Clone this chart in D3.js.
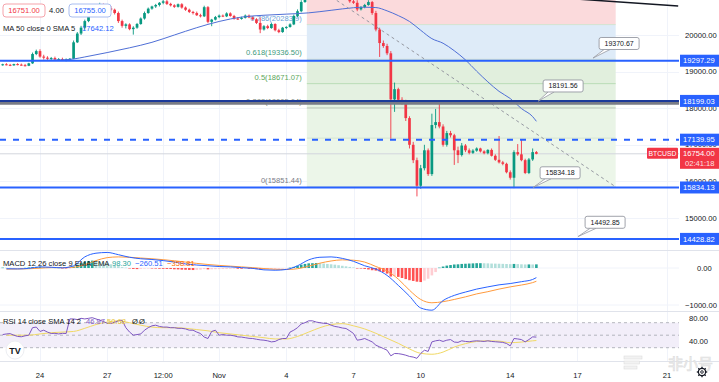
<!DOCTYPE html>
<html><head><meta charset="utf-8">
<script src="https://cdn.jsdelivr.net/npm/d3@7"></script>
<style>body{margin:0;background:#fff;}svg{display:block;font-family:"Liberation Sans",Arial,sans-serif;}</style>
</head><body><svg id="c" width="719" height="382"></svg>
<script>
// ---------------- DATA ----------------
const firstBar = "2022-10-22T08:00";   // 4H bars
const barHours = 4;
// [open, high, low, close]
const candles = [
[19180,19215,19160,19200],[19200,19230,19170,19185],[19185,19210,19150,19170],[19170,19215,19160,19205],
[19205,19230,19170,19190],[19190,19220,19160,19175],[19175,19210,19140,19160],[19160,19240,19150,19225],[19225,19520,19210,19480],[19480,19600,19450,19560],
[19560,19610,19380,19410],[19410,19460,19330,19380],[19380,19420,19320,19350],[19350,19400,19300,19370],[19370,19410,19310,19330],[19330,19370,19290,19340],
[19340,19380,19300,19320],[19320,19360,19280,19330],[19330,19370,19300,19350],[19350,19850,19340,19800],[19800,20080,19780,20040],[20040,20250,20000,20200],
[20200,20420,20150,20380],[20380,20600,20350,20560],[20560,20750,20520,20700],[20700,20800,20640,20760],[20760,20880,20700,20820],[20820,20860,20750,20790],
[20790,20840,20690,20730],[20730,20790,20650,20690],[20690,20720,20560,20600],[20600,20640,20330,20380],[20380,20420,20200,20250],[20250,20320,20180,20290],
[20290,20320,20130,20160],[20160,20240,20010,20200],[20200,20330,20170,20300],[20300,20480,20280,20450],[20450,20640,20420,20600],[20600,20750,20580,20720],
[20720,20800,20690,20780],[20780,20850,20740,20820],[20820,20900,20780,20880],[20880,20990,20840,20920],[20920,20960,20820,20850],[20850,20880,20780,20810],
[20810,20840,20740,20770],[20770,20860,20750,20840],[20840,20870,20720,20750],[20750,20780,20660,20690],[20690,20720,20600,20630],[20630,20660,20560,20600],
[20600,20640,20520,20540],[20540,20580,20480,20510],[20510,20800,20490,20760],[20760,20790,20320,20360],[20360,20440,20240,20420],[20420,20520,20400,20490],
[20490,20560,20460,20530],[20530,20560,20490,20510],[20510,20620,20490,20590],[20590,20620,20500,20520],[20520,20550,20420,20450],[20450,20490,20410,20440],
[20440,20500,20420,20470],[20470,20560,20450,20530],[20530,20560,20460,20480],[20480,20510,20400,20430],[20430,20460,20300,20330],[20330,20480,20050,20150],
[20150,20270,20120,20240],[20240,20280,20160,20190],[20190,20330,20170,20300],[20300,20320,20100,20130],[20130,20170,20050,20080],[20080,20220,20060,20200],
[20200,20240,20160,20220],[20220,20320,20200,20290],[20290,20560,20270,20520],[20520,20700,20480,20650],[20650,20950,20620,20900],[20900,21250,20880,21150],
[21150,21300,21100,21250],[21250,21470,21200,21380],[21380,21420,21280,21320],[21320,21380,21240,21290],[21290,21340,21200,21260],[21260,21320,21180,21300],
[21300,21370,21250,21290],[21290,21340,21220,21250],[21250,21300,21180,21210],[21210,21260,21120,21150],[21150,21200,21000,21050],[21050,21100,20880,20920],
[20920,20990,20850,20880],[20880,20950,20650,20700],[20700,20790,20670,20760],[20760,20850,20730,20820],[20820,20950,20800,20900],[20900,20930,20550,20600],
[20600,20660,20100,20150],[20150,20200,19400,19780],[19780,19850,19650,19700],[19700,19760,19450,19500],[19500,19560,17166,18240],[18240,18700,17900,18520],
[18520,18560,18150,18230],[18230,18300,18100,18160],[18160,18230,17650,17730],[17730,17780,16900,17000],[17000,17080,16500,16580],[16580,16650,15590,15880],
[15880,16450,15800,16360],[16360,17000,16300,16850],[16850,16900,16150,16200],[16200,17850,16150,17540],[17540,17980,17450,17620],[17620,18150,17450,17500],
[17500,17560,16950,17000],[17000,17380,16950,17320],[17320,17380,17200,17260],[17260,17300,16450,16850],[16850,16950,16500,16720],[16720,17050,16680,16980],
[16980,17020,16800,16850],[16850,16900,16740,16780],[16780,16880,16750,16840],[16840,16930,16810,16900],[16900,16920,16790,16820],[16820,16850,16740,16770],
[16770,16880,16740,16860],[16860,16900,16680,16700],[16700,16740,16560,16590],[16590,17240,16490,16520],[16520,16560,16440,16480],[16480,16510,16220,16250],
[16250,16300,16050,16100],[16100,16850,15815,16800],[16800,17020,16700,16740],[16740,17150,16550,16580],[16580,16620,16200,16230],[16230,16640,16200,16600],
[16600,16900,16560,16800],[16800,16830,16740,16754]
];
// MA 50
const ma50 = [
["2022-10-22T08:00",19300],["2022-10-23T00:00",19300],["2022-10-24T00:00",19305],["2022-10-25T00:00",19320],["2022-10-25T12:00",19345],
["2022-10-26T00:00",19400],["2022-10-27T00:00",19520],["2022-10-28T00:00",19650],["2022-10-29T00:00",19800],["2022-10-30T00:00",20000],
["2022-10-31T00:00",20200],["2022-11-01T00:00",20370],["2022-11-02T00:00",20490],["2022-11-03T00:00",20540],["2022-11-04T00:00",20570],
["2022-11-05T00:00",20605],["2022-11-06T00:00",20675],["2022-11-07T00:00",20745],["2022-11-07T12:00",20760],["2022-11-08T00:00",20750],
["2022-11-08T12:00",20660],["2022-11-09T00:00",20530],["2022-11-09T12:00",20370],["2022-11-10T00:00",20130],["2022-11-10T12:00",19900],
["2022-11-11T00:00",19775],["2022-11-11T12:00",19570],["2022-11-12T00:00",19320],["2022-11-12T12:00",19010],["2022-11-13T00:00",18720],
["2022-11-13T12:00",18460],["2022-11-14T00:00",18265],["2022-11-14T12:00",17990],["2022-11-15T00:00",17770],["2022-11-15T04:00",17642.12]
];
// MACD & signal, sampled every 12h from this time, plus the live bar value
const halfDayStart = "2022-10-22T12:00";
const macdLine = [-20,-25,-10,30,20,5,60,300,400,420,360,290,250,230,200,160,110,80,60,40,30,10,-10,-50,-60,-40,60,220,290,300,260,180,60,-30,-200,-470,-760,-1080,-1140,-880,-740,-650,-570,-510,-455,-420,-370,-310,-260.51];
const signalLine = [-30,-25,-20,-5,10,10,20,90,200,280,300,290,270,250,225,195,160,125,95,70,50,30,10,-15,-35,-40,-20,50,130,190,220,210,160,40,-80,-300,-600,-850,-940,-910,-850,-780,-700,-640,-570,-510,-460,-395,-358.81];
// MACD histogram, one per bar
const macdHist = [10,8,5,2,
0,-3,5,15,25,30, 35,25,15,10,5,0, -5,-8,-5,40,90,130, 170,190,200,190,170,150, 130,100,75,50,25,10,
-5,-25,-30,-25,-15,-5, -10,-15,-20,-22,-25,-28, -35,-38,-45,-48,-52,-55, -50,-45,-30,-38,-35,-32,
-30,-28,-25,-22,-20,-20, -20,-18,-20,-24,-30,-42, -38,-32,-28,-26,-20,-10, -5,10,30,60,90,110,
125,130,135,130,120,110, 100,90,75,60,45,30, 15,-5,-15,-25,-40,-60, -70,-90,-110,-150,-230,-220,
-240,-270,-300,-330,-350,-370, -380,-340,-290,-200,-110,10, 40,65,80,95,100,110, 115,120,125,130,130,128,
125,120,118,115,112,108, 104,110,106,100,96,97, 96,98.3];
// RSI 14, one per bar
const rsi = [51,52,52.5,50,
48,47.5,49,50,62,63, 56,58,55,52.7,53,52, 53,52.7,76,76,75,77, 76,77,78,76,74,72, 69,68.7,71,73,74,62,
55,50,51,52,58,62, 65,66,64,63,63,62, 62,61,61,60,58,58, 55,52.7,47,44.7,56,58,
50,51,50,50,49,47.3, 47,46,45,44.7,43.5,42.5, 42,41,39.3,40,43,44.7, 44.7,55,58,62,68,70,
73,73,71,70,69,68.7, 66,64,63,61.5,60.7,57, 52.7,42,43,44.7,42,39.3, 34,31.3,28.7,26,17,20.7,
20.5,19.5,18,16,15,13, 20.7,26,24,39.3,41,42, 40,42,43,39,38.5,41, 40,39.5,40.5,41,40.5,40,
41,40,39.5,39,38.5,36.7, 33,44.7,44,43,39.3,43, 47.3,46.97];
// RSI-based MA, every 12h + live value
const rsiMa = [50,50,50,52,54,55,56,61,67,71,73,70,66,63,62,62,61,59,57,54,52,50,48,46,44,44,48,55,62,67,68.5,65,60,53,45,37,28,21,19.5,23,31,36.5,40,41,40.5,38,39,41,41.5];

// Price scale ticks, time ticks
const priceTicks = [20000,19000,18000,17000,16000,15000];
const timeTicks = [["2022-10-24T00:00","24"],["2022-10-27T00:00","27"],["2022-10-29T12:00","12:00"],["2022-11-01T00:00","Nov"],
["2022-11-04T00:00","4"],["2022-11-07T00:00","7"],["2022-11-10T00:00","10"],["2022-11-14T00:00","14"],["2022-11-17T00:00","17"],["2022-11-21T00:00","21"]];
// Drawings
const hLines = [
  {price:19297.29, color:"#2962ff"},
  {price:18199.03, color:"#1b3a9a"},
  {price:17139.95, color:"#2962ff", dash:"6,7"},
  {price:15834.13, color:"#2962ff"},
  {price:14428.82, color:"#2962ff"}];
const grayBandPrice = 18140;
const lastPrice = 16754.00;
const fibLow = 15851.44, fibHigh = 21490.70;
const fibStart = "2022-11-04T22:00", fibEnd = "2022-11-18T17:00";
const fibLevels = [1, 0.786, 0.618, 0.5, 0.382, 0.236, 0];
const fibZoneColors = ["#fbdadc","#deebf8","#e1efdd","#e4f1e1","#e9f4e6","#ecf6e9"];
const fibLabelColors = {"0.786":"#6aa3d8","0.618":"#3d9a7c","0.5":"#5aa65a","0.382":"#7d8a7d","0":"#787b86"};
const callouts = [
  {text:"19370.67", at:["2022-11-17T16:45",19370.67], box:["2022-11-18T20:40",19768]},
  {text:"18191.56", at:["2022-11-15T05:50",18191.56], box:["2022-11-16T08:40",18607]},
  {text:"15834.18", at:["2022-11-15T00:30",15834.18], box:["2022-11-16T05:25",16235]},
  {text:"14492.85", at:["2022-11-17T00:40",14492.85], box:["2022-11-18T05:40",14883]}];
const trendLine = [["2022-11-10T00:00",21280],["2022-11-21T12:00",20790]];

// ---------------- SCALES ----------------
const T = s => new Date(s + ":00Z");
const svg = d3.select("#c");
const PR = 679; // plot right edge
const x = d3.scaleUtc().domain([T("2022-10-24T00:00"), T("2022-11-21T00:00")]).range([40, 667]);
const y = d3.scaleLinear().domain([15000, 20000]).range([218, 35]);
const yM = d3.scaleLinear().domain([-1000, 0]).range([305, 268]);
const yR = d3.scaleLinear().domain([30, 70]).range([347.7, 322.7]);
const barTime = i => new Date(T(firstBar).getTime() + i * barHours * 3600e3);
const halfTime = (k, n) => k === n - 1 ? barTime(candles.length - 1) : new Date(T(halfDayStart).getTime() + k * 12 * 3600e3);

svg.append("rect").attr("width",719).attr("height",382).attr("fill","#fff");
const defs = svg.append("defs");
function clip(id, y0, h){ defs.append("clipPath").attr("id",id).append("rect").attr("x",0).attr("y",y0).attr("width",PR).attr("height",h); }
clip("cMain",0,249); clip("cMacd",251,60); clip("cRsi",312,49);

// grid
const grid = svg.append("g").attr("stroke","#f0f3fa").attr("stroke-width",1);
timeTicks.forEach(([d]) => grid.append("line").attr("x1",Math.round(x(T(d)))+0.5).attr("x2",Math.round(x(T(d)))+0.5).attr("y1",0).attr("y2",361));
priceTicks.forEach(p => grid.append("line").attr("x1",0).attr("x2",PR).attr("y1",Math.round(y(p))+0.5).attr("y2",Math.round(y(p))+0.5));
[0,-1000].forEach(v => grid.append("line").attr("x1",0).attr("x2",PR).attr("y1",yM(v)).attr("y2",yM(v)));

// ---------------- MAIN PANE ----------------
const main = svg.append("g").attr("clip-path","url(#cMain)");
const fibP = l => fibLow + l * (fibHigh - fibLow);
const fx0 = x(T(fibStart)), fx1 = x(T(fibEnd));
for (let k = 0; k < fibLevels.length - 1; k++) {
  const a = y(fibP(fibLevels[k])), b = y(fibP(fibLevels[k+1]));
  main.append("rect").attr("x",fx0).attr("width",fx1-fx0).attr("y",a).attr("height",b-a).attr("fill",fibZoneColors[k]);
}
fibLevels.forEach(l => {
  const yy = y(fibP(l));
  main.append("line").attr("x1",fx0).attr("x2",fx1).attr("y1",yy).attr("y2",yy)
    .attr("stroke", l===0.5 ? "#b9dcb6" : (l===0.382 ? "#b5c2b5" : "#d3e3d0")).attr("stroke-width",1);
  const key = String(l);
  if (fibLabelColors[key]) {
    const v = fibP(l);
    main.append("text").attr("x",fx0-5).attr("y",yy-4).attr("text-anchor","end").attr("font-size",7.6)
      .attr("fill",fibLabelColors[key]).text(key + "(" + (l===0.786 ? v.toFixed(1) : v.toFixed(2)) + ")");
  }
});
// last price line
main.append("line").attr("x1",0).attr("x2",PR).attr("y1",y(lastPrice)).attr("y2",y(lastPrice)).attr("stroke","#d3d6dd").attr("stroke-width",1);

// candles
const up = "#089981", dn = "#f23645";
const cg = main.append("g");
candles.forEach((c, i) => {
  const [o,h,l,cl] = c, xc = x(barTime(i)), col = cl >= o ? up : dn;
  cg.append("line").attr("x1",xc).attr("x2",xc).attr("y1",y(h)).attr("y2",y(l)).attr("stroke",col).attr("stroke-width",0.9);
  const t = y(Math.max(o,cl)), b = y(Math.min(o,cl));
  cg.append("rect").attr("x",xc-1.35).attr("width",2.7).attr("y",t).attr("height",Math.max(1,b-t)).attr("fill",col);
});
// MA 50
main.append("path").datum(ma50).attr("fill","none").attr("stroke","#4f6fd6").attr("stroke-width",1)
  .attr("d", d3.line().x(d=>x(T(d[0]))).y(d=>y(d[1])).curve(d3.curveMonotoneX));
// fib diagonal
main.append("line").attr("x1",fx0).attr("y1",y(fibHigh)).attr("x2",fx1).attr("y2",y(fibLow))
  .attr("stroke","#9598a1").attr("stroke-width",1).attr("stroke-dasharray","3,3");
// horizontal lines
main.append("line").attr("x1",0).attr("x2",PR).attr("y1",y(grayBandPrice)).attr("y2",y(grayBandPrice)).attr("stroke","#787b86").attr("stroke-width",3.5);
hLines.forEach(h => {
  main.append("line").attr("x1",0).attr("x2",PR).attr("y1",y(h.price)).attr("y2",y(h.price))
    .attr("stroke",h.color).attr("stroke-width",2).attr("stroke-dasharray",h.dash||null);
});
// trend line
main.append("line").attr("x1",x(T(trendLine[0][0]))).attr("y1",y(trendLine[0][1])).attr("x2",x(T(trendLine[1][0]))).attr("y2",y(trendLine[1][1]))
  .attr("stroke","#131722").attr("stroke-width",1.5);
// callouts
callouts.forEach(c => {
  const ax = x(T(c.at[0])), ay = y(c.at[1]);
  const bw = 40, bh = 12, bx = x(T(c.box[0])) - bw/2, by = y(c.box[1]) - bh/2;
  main.append("path").attr("d",`M${bx+5},${by+bh}L${ax},${ay}L${bx+11},${by+bh}`).attr("fill","#fff").attr("stroke","#9598a1").attr("stroke-width",0.8);
  main.append("rect").attr("x",bx).attr("y",by).attr("width",bw).attr("height",bh).attr("rx",2)
    .attr("fill","#fff").attr("stroke","#9598a1").attr("stroke-width",0.9);
  main.append("text").attr("x",bx+bw/2).attr("y",by+bh/2).attr("dy","0.35em").attr("text-anchor","middle")
    .attr("font-size",7).attr("fill","#131722").text(c.text);
});

// ---------------- MACD PANE ----------------
const mp = svg.append("g").attr("clip-path","url(#cMacd)");
macdHist.forEach((v, i) => {
  const prev = i > 0 ? macdHist[i-1] : v;
  const col = v >= 0 ? (v >= prev ? "#26a69a" : "#b2dfdb") : (v <= prev ? "#ff5252" : "#ffcdd2");
  const xc = x(barTime(i)), a = yM(Math.max(v,0)), b = yM(Math.min(v,0));
  mp.append("rect").attr("x",xc-1.3).attr("width",2.6).attr("y",a).attr("height",Math.max(0.5,b-a)).attr("fill",col);
});
const lineHalf = arr => d3.line().x((d,k)=>x(halfTime(k,arr.length))).curve(d3.curveMonotoneX);
mp.append("path").datum(signalLine).attr("fill","none").attr("stroke","#ff9a3c").attr("stroke-width",1)
  .attr("d", lineHalf(signalLine).y(d=>yM(d)));
mp.append("path").datum(macdLine).attr("fill","none").attr("stroke","#2962ff").attr("stroke-width",1)
  .attr("d", lineHalf(macdLine).y(d=>yM(d)));

// ---------------- RSI PANE ----------------
const rp = svg.append("g").attr("clip-path","url(#cRsi)");
rp.append("rect").attr("x",0).attr("width",PR).attr("y",yR(70)).attr("height",yR(30)-yR(70)).attr("fill","#f2eef9");
[70,50,30].forEach(v => rp.append("line").attr("x1",0).attr("x2",PR).attr("y1",yR(v)).attr("y2",yR(v))
  .attr("stroke","#a3a6af").attr("stroke-width",0.8).attr("stroke-dasharray","3,3"));
rp.append("path").datum(rsiMa).attr("fill","none").attr("stroke","#f1d964").attr("stroke-width",1)
  .attr("d", lineHalf(rsiMa).y(d=>yR(d)));
rp.append("path").datum(rsi).attr("fill","none").attr("stroke","#7e57c2").attr("stroke-width",1)
  .attr("d", d3.line().x((d,i)=>x(barTime(i))).y(d=>yR(d)));

// separators
const sep = svg.append("g").attr("stroke","#e0e3eb").attr("stroke-width",1);
[250.5, 311.5, 361.5].forEach(v => sep.append("line").attr("x1",0).attr("x2",719).attr("y1",v).attr("y2",v));

// ---------------- AXES / LABELS ----------------
const fs = 7.6, ink = "#131722";
const ax = svg.append("g").attr("font-size",fs).attr("fill",ink);
priceTicks.forEach(p => ax.append("text").attr("x",685).attr("y",y(p)).attr("dy","0.35em").text(p.toFixed(2)));
ax.append("text").attr("x",697).attr("y",yM(0)).attr("dy","0.35em").text("0.00");
ax.append("text").attr("x",685).attr("y",yM(-1000)).attr("dy","0.35em").text("\u22121000.00");
ax.append("text").attr("x",689).attr("y",yR(80)+1.5).attr("dy","0.35em").text("80.00");
ax.append("text").attr("x",689).attr("y",yR(40)).attr("dy","0.35em").text("40.00");
timeTicks.forEach(([d,l]) => ax.append("text").attr("x",x(T(d))).attr("y",375).attr("dy","0.35em").attr("text-anchor","middle").text(l));

// line labels on price axis
hLines.forEach(h => {
  const yy = y(h.price);
  svg.append("rect").attr("x",680).attr("y",yy-6).attr("width",39).attr("height",12).attr("fill","#2962ff");
  svg.append("text").attr("x",683).attr("y",yy).attr("dy","0.35em").attr("font-size",fs).attr("fill","#fff").text(h.price.toFixed(2));
});
// last price labels
const ly = y(lastPrice);
svg.append("rect").attr("x",647).attr("y",ly-6).attr("width",31).attr("height",11).attr("rx",1).attr("fill","#f23645");
svg.append("text").attr("x",662.5).attr("y",ly-0.5).attr("dy","0.35em").attr("text-anchor","middle").attr("font-size",6.8).attr("fill","#fff").text("BTCUSD");
svg.append("rect").attr("x",680).attr("y",ly-6).attr("width",39).attr("height",21).attr("fill","#f23645");
svg.append("text").attr("x",683).attr("y",ly).attr("dy","0.35em").attr("font-size",fs).attr("fill","#fff").text(lastPrice.toFixed(2));
svg.append("text").attr("x",685).attr("y",ly+9.5).attr("dy","0.35em").attr("font-size",fs).attr("fill","#fde0e2").text("02:41:18");

// legends
const lg = svg.append("g").attr("font-size",fs);
const lt = (xx, yy, col, s) => lg.append("text").attr("x",xx).attr("y",yy).attr("dy","0.35em").attr("fill",col).text(s);
lg.append("rect").attr("x",3).attr("y",4).attr("width",42).attr("height",13).attr("rx",3).attr("fill","#fff").attr("stroke","#f5a3aa");
lt(24,10.5,"#f23645","16751.00").attr("text-anchor","middle");
lt(56.5,10.5,ink,"4.00").attr("text-anchor","middle");
lg.append("rect").attr("x",69).attr("y",4).attr("width",42).attr("height",13).attr("rx",3).attr("fill","#fff").attr("stroke","#a9bdf0");
lt(90,10.5,"#2962ff","16755.00").attr("text-anchor","middle");
lt(3,28.5,ink,"MA 50 close 0 SMA 5");
lt(82,28.5,"#2962ff","17642.12");
lt(3,263.5,ink,"MACD 12 26 close 9 EMA EMA");
lt(112,263.5,"#26a69a","98.30");
lt(135,263.5,"#2962ff","\u2212260.51");
lt(167,263.5,"#ff6d00","\u2212358.81");
lt(3,321.5,ink,"RSI 14 close SMA 14 2");
lt(86,321.5,"#7e57c2","46.97");
lt(107,321.5,"#e9c43a","50.68");
lt(132,321.5,ink,"\u00d8");
lt(139,321.5,ink,"\u00d8");

// TV logo
svg.append("circle").attr("cx",15).attr("cy",350).attr("r",9).attr("fill","#fff").attr("stroke","#eceef2");
svg.append("text").attr("x",15).attr("y",350.5).attr("dy","0.35em").attr("text-anchor","middle").attr("font-size",9)
  .attr("font-weight","bold").attr("fill","#131722").text("TV");
// watermark
svg.append("text").attr("x",713).attr("y",369).attr("text-anchor","end").attr("font-family","Noto Sans CJK SC")
  .attr("font-size",15).attr("fill","#f2f2f2").attr("stroke","#dcdcdc").attr("stroke-width",0.6).text("非小号");
const wm = svg.append("g").attr("fill","#f2f2f2").attr("stroke","#dcdcdc").attr("stroke-width",0.6);
[0,5,10].forEach(d => wm.append("rect").attr("x",624).attr("y",356+d).attr("width",18 - d/2).attr("height",3));
// gear
const gear = svg.append("g").attr("transform","translate(702,372)").attr("stroke",ink).attr("fill","none");
gear.append("circle").attr("r",3.6).attr("stroke-width",1.2);
gear.append("circle").attr("r",1.3).attr("stroke-width",0.9);
d3.range(8).forEach(k => { const a = k*Math.PI/4;
  gear.append("line").attr("x1",3.6*Math.cos(a)).attr("y1",3.6*Math.sin(a)).attr("x2",5.2*Math.cos(a)).attr("y2",5.2*Math.sin(a)).attr("stroke-width",1.3); });
</script></body></html>
